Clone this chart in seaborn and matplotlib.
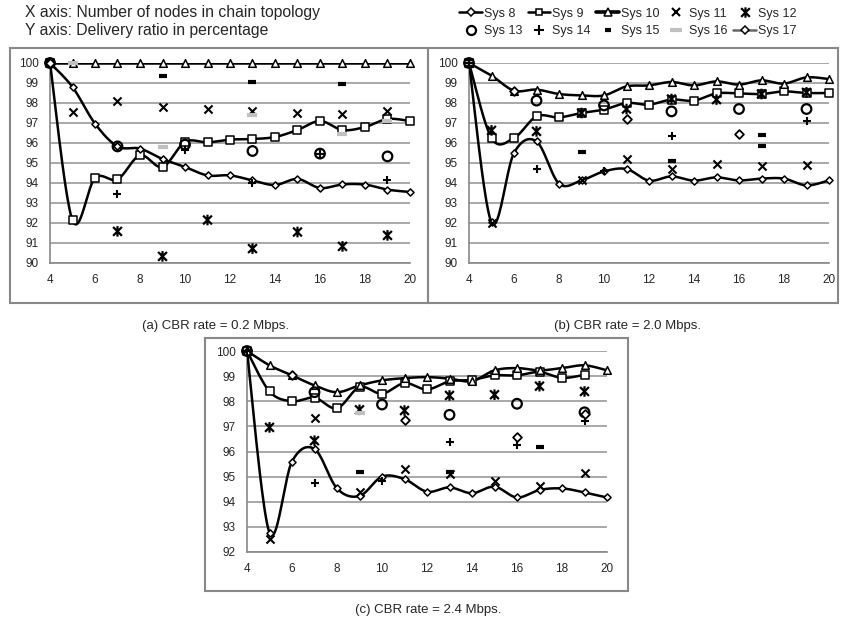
import numpy as np
import seaborn as sns
import matplotlib.pyplot as plt
from matplotlib.patches import Rectangle
from matplotlib.lines import Line2D
from matplotlib.path import Path

nodes = list(range(4, 21))

# (a) CBR rate = 0.2 Mbps
a_sys8 = [100, 98.8, 96.97, 95.83, 95.72, 95.2, 94.8, 94.38, 94.38, 94.13, 93.9, 94.2, 93.75, 93.93, 93.92, 93.67, 93.55]
a_sys9 = [100, 92.13, 94.25, 94.18, 95.38, 94.8, 96.05, 96.03, 96.17, 96.2, 96.3, 96.65, 97.1, 96.65, 96.8, 97.2, 97.1]
a_sys10 = [100] * 17
a_sys11_x, a_sys11 = [4, 5, 7, 9, 11, 13, 15, 17, 19], [100, 97.53, 98.08, 97.8, 97.7, 97.62, 97.5, 97.45, 97.62]
a_sys12_x, a_sys12 = [4, 7, 9, 11, 13, 15, 17, 19], [100, 91.58, 90.33, 92.15, 90.72, 91.55, 90.83, 91.38]
a_sys13_x, a_sys13 = [4, 7, 10, 13, 16, 19], [100, 95.83, 95.92, 95.6, 95.47, 95.33]
a_sys14_x, a_sys14 = [4, 7, 10, 13, 16, 19], [100, 93.47, 95.67, 94.0, 95.47, 94.13]
a_sys15_x, a_sys15 = [4, 9, 13, 17], [100, 99.33, 99.05, 98.93]
a_sys16_x, a_sys16 = [5, 9, 13, 17, 19], [100, 95.8, 97.4, 96.45, 97.1]
a_sys17_x, a_sys17 = [4], [100]

# (b) CBR rate = 2.0 Mbps
b_sys8 = [100, 92.03, 95.5, 96.08, 93.97, 94.13, 94.58, 94.7, 94.12, 94.33, 94.12, 94.28, 94.13, 94.22, 94.22, 93.88, 94.13]
b_sys9 = [100, 96.25, 96.25, 97.33, 97.28, 97.5, 97.67, 98.0, 97.92, 98.17, 98.12, 98.48, 98.48, 98.45, 98.58, 98.5, 98.5]
b_sys10 = [100, 99.37, 98.62, 98.67, 98.45, 98.38, 98.38, 98.83, 98.88, 99.05, 98.88, 99.08, 98.92, 99.13, 98.97, 99.28, 99.2]
b_sys11_x, b_sys11 = [4, 5, 9, 11, 13, 15, 17, 19], [100, 92.0, 94.13, 95.22, 94.7, 94.95, 94.87, 94.92]
b_sys12_x, b_sys12 = [4, 5, 7, 9, 11, 13, 15, 17, 19], [100, 96.63, 96.58, 97.5, 97.7, 98.2, 98.17, 98.45, 98.53]
b_sys13_x, b_sys13 = [4, 7, 10, 13, 16, 19], [100, 98.12, 97.88, 97.58, 97.7, 97.7]
b_sys14_x, b_sys14 = [4, 7, 10, 13, 16, 19], [100, 94.7, 94.62, 96.37, 96.47, 97.08]
b_sys15_x, b_sys15 = [9, 13, 17, 17], [95.55, 95.08, 96.42, 95.83]
b_sys16_x, b_sys16 = [4], [100]
b_sys17_x, b_sys17 = [6, 11, 16], [98.62, 97.22, 96.47]

# (c) CBR rate = 2.4 Mbps
c_sys8 = [100, 92.77, 95.6, 96.1, 94.53, 94.23, 95.0, 94.9, 94.4, 94.57, 94.34, 94.6, 94.17, 94.47, 94.53, 94.37, 94.17]
c_sys9 = [100, 98.39, 98.0, 98.14, 97.72, 98.56, 98.3, 98.72, 98.47, 98.79, 98.85, 99.03, 99.03, 99.16, 98.93, 99.05]
c_sys10 = [100, 99.43, 99.03, 98.63, 98.36, 98.63, 98.83, 98.92, 98.96, 98.9, 98.8, 99.23, 99.32, 99.23, 99.32, 99.43, 99.23]
c_sys11_x, c_sys11 = [5, 7, 9, 11, 13, 15, 17, 19], [92.5, 97.34, 94.37, 95.3, 95.1, 94.83, 94.63, 95.13]
c_sys12_x, c_sys12 = [5, 7, 9, 11, 13, 15, 17, 19], [96.96, 96.43, 97.66, 97.63, 98.23, 98.26, 98.6, 98.39]
c_sys13_x, c_sys13 = [4, 7, 10, 13, 16, 19], [100, 98.36, 97.87, 97.46, 97.9, 97.56]
c_sys14_x, c_sys14 = [4, 7, 10, 13, 16, 19], [100, 94.74, 94.83, 96.39, 96.26, 97.23]
c_sys15_x, c_sys15 = [9, 13, 17], [95.2, 95.19, 96.19]
c_sys16_x, c_sys16 = [9], [97.55]
c_sys17_x, c_sys17 = [6, 11, 16, 19], [99.03, 97.26, 96.59, 97.5]

captions = ['(a) CBR rate = 0.2 Mbps.', '(b) CBR rate = 2.0 Mbps.', '(c) CBR rate = 2.4 Mbps.']


def smooth(xs, ys, n=24):
    # Excel style smoothed line: Catmull-Rom bezier through the points
    p = np.column_stack([xs, ys]).astype(float)
    p = np.vstack([p[0], p, p[-1]])
    out = []
    t = np.linspace(0, 1, n)[:, None]
    for i in range(1, len(p) - 2):
        p0, p1, p2, p3 = p[i - 1], p[i], p[i + 1], p[i + 2]
        b1 = p1 + (p2 - p0) / 6
        b2 = p2 - (p3 - p1) / 6
        seg = (1 - t) ** 3 * p1 + 3 * (1 - t) ** 2 * t * b1 + 3 * (1 - t) * t ** 2 * b2 + t ** 3 * p2
        out.append(seg)
    out = np.vstack(out)
    return out[:, 0], out[:, 1]


# Excel "star" marker: an x with a vertical bar through it
star = Path([(-1, -1), (1, 1), (-1, 1), (1, -1), (0, -1.2), (0, 1.2)],
            [Path.MOVETO, Path.LINETO, Path.MOVETO, Path.LINETO, Path.MOVETO, Path.LINETO])

line_styles = {
    'Sys 8': dict(marker='D', s=13),
    'Sys 9': dict(marker='s', s=26),
    'Sys 10': dict(marker='^', s=30),
}
pt_styles = {
    'Sys 11': dict(marker='x', s=34, color='black', linewidth=1.5),
    'Sys 12': dict(marker=star, s=58, facecolor='none', edgecolor='black', linewidth=1.6),
    'Sys 13': dict(marker='o', s=48, facecolor='none', edgecolor='black', linewidth=1.6),
    'Sys 14': dict(marker='+', s=40, color='black', linewidth=1.5),
    'Sys 15': dict(marker='_', s=28, color='black', linewidth=3),
    'Sys 16': dict(marker='_', s=50, color='#c0c0c0', linewidth=3),
    'Sys 17': dict(marker='D', s=20, facecolor='white', edgecolor='black', linewidth=1.3),
}


def draw_panel(ax, lines, points, ymin):
    for name, ys in lines.items():
        xs = nodes[:len(ys)]
        sx, sy = smooth(xs, ys)
        sns.lineplot(x=sx, y=sy, ax=ax, sort=False, estimator=None, color='black', lw=1.8, zorder=3)
        st = line_styles[name]
        sns.scatterplot(x=xs, y=ys, ax=ax, marker=st['marker'], s=st['s'], facecolor='white',
                        edgecolor='black', linewidth=1.1, zorder=4, clip_on=False)
    for name, (xs, ys) in points.items():
        sns.scatterplot(x=xs, y=ys, ax=ax, zorder=5, clip_on=False, **pt_styles[name])
    ax.set_xlim(4, 20)
    ax.set_ylim(ymin, 100)
    ax.set_xticks(range(4, 21, 2))
    ax.set_yticks(range(ymin, 101))
    ax.yaxis.grid(True, color='#999999', lw=1.2)
    ax.set_axisbelow(True)
    for side in ['top', 'right']:
        ax.spines[side].set_visible(False)
    for side in ['left', 'bottom']:
        ax.spines[side].set_color('#888888')
        ax.spines[side].set_linewidth(1.2)
    ax.tick_params(axis='both', labelsize=8.5, length=3, width=1, color='#888888', pad=5)


sns.set_style('white')
plt.rcParams['font.family'] = ['Liberation Sans', 'DejaVu Sans']

W, H = 841, 625
fig = plt.figure(figsize=(8.41, 6.25), dpi=100)


def px_axes(x0, y0, x1, y1):
    return fig.add_axes([x0 / W, 1 - y1 / H, (x1 - x0) / W, (y1 - y0) / H])


ax_a = px_axes(50, 63, 410, 263)
ax_b = px_axes(469, 63, 829, 263)
ax_c = px_axes(247, 351, 607, 552)

draw_panel(ax_a, {'Sys 9': a_sys9, 'Sys 8': a_sys8, 'Sys 10': a_sys10},
           {'Sys 11': (a_sys11_x, a_sys11), 'Sys 12': (a_sys12_x, a_sys12), 'Sys 16': (a_sys16_x, a_sys16),
            'Sys 13': (a_sys13_x, a_sys13), 'Sys 14': (a_sys14_x, a_sys14), 'Sys 15': (a_sys15_x, a_sys15),
            'Sys 17': (a_sys17_x, a_sys17)}, 90)
draw_panel(ax_b, {'Sys 9': b_sys9, 'Sys 8': b_sys8, 'Sys 10': b_sys10},
           {'Sys 11': (b_sys11_x, b_sys11), 'Sys 12': (b_sys12_x, b_sys12), 'Sys 16': (b_sys16_x, b_sys16),
            'Sys 13': (b_sys13_x, b_sys13), 'Sys 14': (b_sys14_x, b_sys14), 'Sys 15': (b_sys15_x, b_sys15),
            'Sys 17': (b_sys17_x, b_sys17)}, 90)
draw_panel(ax_c, {'Sys 9': c_sys9, 'Sys 8': c_sys8, 'Sys 10': c_sys10},
           {'Sys 11': (c_sys11_x, c_sys11), 'Sys 12': (c_sys12_x, c_sys12), 'Sys 16': (c_sys16_x, c_sys16),
            'Sys 13': (c_sys13_x, c_sys13), 'Sys 14': (c_sys14_x, c_sys14), 'Sys 15': (c_sys15_x, c_sys15),
            'Sys 17': (c_sys17_x, c_sys17)}, 92)

# panel frames
for x0, y0, x1, y1 in [(10, 48, 428, 303), (428, 48, 838, 303), (205, 338, 628, 591)]:
    fig.patches.append(Rectangle((x0 / W, 1 - y1 / H), (x1 - x0) / W, (y1 - y0) / H, transform=fig.transFigure,
                                 fill=False, edgecolor='#888888', lw=1.5))

fig.text(25 / W, 1 - 12 / H, 'X axis: Number of nodes in chain topology', fontsize=11.3, va='center')
fig.text(25 / W, 1 - 31 / H, 'Y axis: Delivery ratio in percentage', fontsize=11.3, va='center')

for (cx, cy), cap in zip([(216, 326), (627, 326), (428, 610)], captions):
    fig.text(cx / W, 1 - cy / H, cap, fontsize=9.5, ha='center', va='center')


# legend
def lh(marker, ms, lw=1.8, color='black'):
    return Line2D([], [], color=color, lw=lw, marker=marker, markersize=ms,
                  markerfacecolor='white', markeredgecolor='black', markeredgewidth=1.1)


handles = {
    'Sys 8': lh('D', 4),
    'Sys 9': lh('s', 5),
    'Sys 10': lh('^', 6, lw=2.6),
    'Sys 11': Line2D([], [], ls='none', marker='x', ms=6, color='black', mew=1.5),
    'Sys 12': Line2D([], [], ls='none', marker=star, ms=7.5, mfc='none', mec='black', mew=1.6),
    'Sys 13': Line2D([], [], ls='none', marker='o', ms=6.5, mfc='none', mec='black', mew=1.6),
    'Sys 14': Line2D([], [], ls='none', marker='+', ms=6.5, color='black', mew=1.5),
    'Sys 15': Line2D([], [], ls='none', marker='_', ms=5, color='black', mew=3),
    'Sys 16': Line2D([], [], ls='none', marker='_', ms=8, color='#c0c0c0', mew=3),
    'Sys 17': lh('D', 4.5, color='#666666'),
}
order = ['Sys 8', 'Sys 13', 'Sys 9', 'Sys 14', 'Sys 10', 'Sys 15', 'Sys 11', 'Sys 16', 'Sys 12', 'Sys 17']
fig.legend([handles[k] for k in order], order, ncol=5, loc='upper left', bbox_to_anchor=(452 / W, 1.0),
           frameon=False, fontsize=9, handlelength=1.8, handletextpad=0.15, columnspacing=0.45,
           labelspacing=0.45, borderaxespad=0.2)

fig.savefig('out.png', dpi=100)
